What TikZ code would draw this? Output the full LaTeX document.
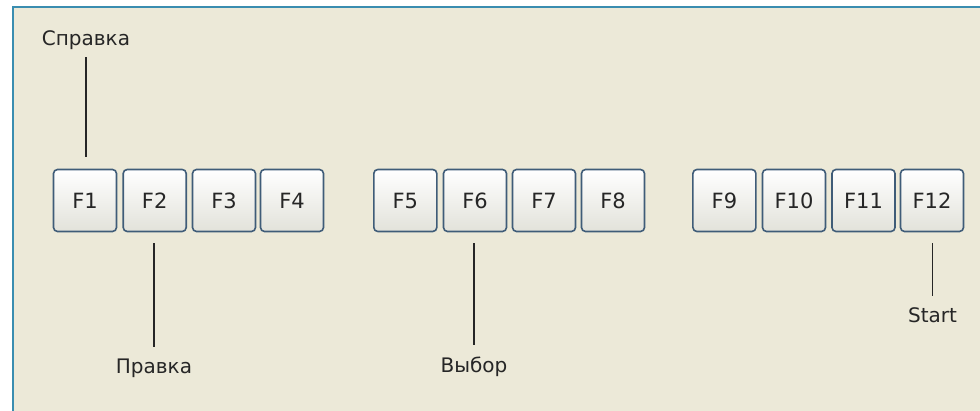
\documentclass[tikz,border=0pt]{standalone}
\usepackage{fontspec}
\setmainfont{DejaVu Sans}
\usepackage{tikz}
\definecolor{panel}{HTML}{ECE9D8}
\definecolor{frameblue}{HTML}{3A8DB0}
\definecolor{keyrim}{HTML}{3F5C78}
\definecolor{keylow}{HTML}{E2E2DA}

\begin{document}
\begin{tikzpicture}[x=1pt,y=-1pt]
	\tikzset{
		fkey/.style={draw=keyrim,line width=1.6pt,rounded corners=4pt,
			top color=white,bottom color=keylow,
			minimum width=63pt,minimum height=62pt,inner sep=0pt,
			font=\fontsize{21}{21}\selectfont,text=black!85},
		lbl/.style={inner sep=0pt,anchor=base,
			font=\fontsize{20}{20}\selectfont,text=black!85},
		pin/.style={line width=1.4pt,black!85}}
	\useasboundingbox (0,0) rectangle (980,411);
	% panel
	\fill[white] (0,0) rectangle (980,411);
	\fill[panel] (13,7) rectangle (980,411);
	\draw[frameblue,line width=2pt] (13,411)--(13,7)--(980,7);
	% keys
	\node[fkey](f1) at (85,200.5){F1};
	\node[fkey](f2) at (154.7,200.5){F2};
	\node[fkey](f3) at (224,200.5){F3};
	\node[fkey](f4) at (292,200.5){F4};
	\node[fkey](f5) at (405.3,200.5){F5};
	\node[fkey](f6) at (475,200.5){F6};
	\node[fkey](f7) at (544,200.5){F7};
	\node[fkey](f8) at (613,200.5){F8};
	\node[fkey](f9) at (724.4,200.5){F9};
	\node[fkey](f10) at (794,200.5){F10};
	\node[fkey](f11) at (863.5,200.5){F11};
	\node[fkey](f12) at (932,200.5){F12};
	% labels
	\node[lbl](spravka) at (86,45.7){Справка};
	\node[lbl](pravka) at (154,374){Правка};
	\node[lbl](vybor) at (474,373){Выбор};
	\node[lbl](start) at (932.5,322.7){Start};
	\draw[pin,shorten <=7pt,shorten >=12pt](spravka.south)--(spravka.south |- f1.north);
	\draw[pin,shorten <=11pt,shorten >=12pt](f2.south -| pravka.north)--(pravka.north);
	\draw[pin,shorten <=11pt,shorten >=12pt](f6.south -| vybor.north)--(vybor.north);
	\draw[pin,shorten <=11pt,shorten >=12pt](f12.south -| start.north)--(start.north);
\end{tikzpicture}
\end{document}
